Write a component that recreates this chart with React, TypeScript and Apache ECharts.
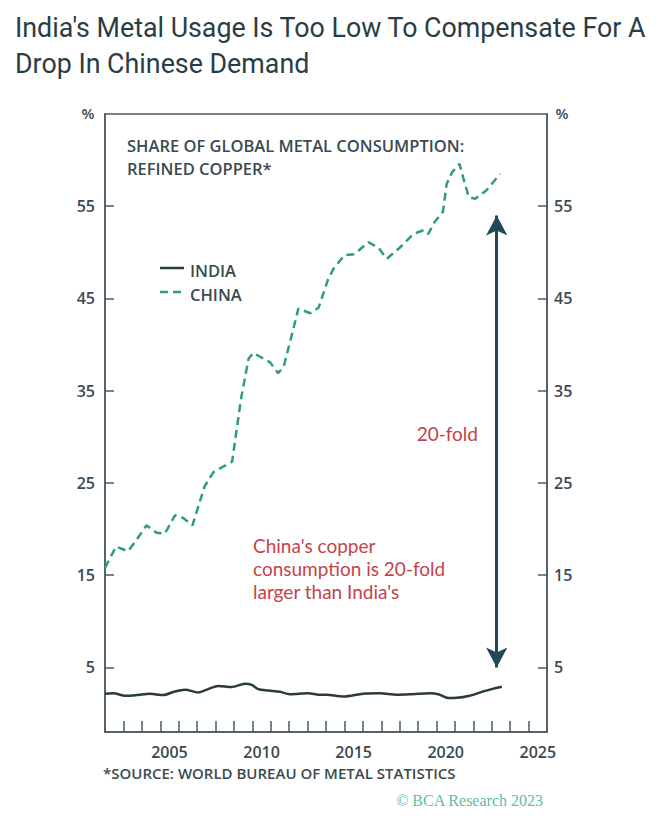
import React, { useEffect, useRef } from "react";
import * as echarts from "echarts";

const chinaYears = [2002.0, 2002.6, 2003.25, 2003.7, 2004.25, 2004.8, 2005.25, 2005.8, 2006.25, 2006.75, 2007.4, 2007.9, 2008.9, 2009.4, 2009.8, 2010.05, 2010.95, 2011.4, 2011.7, 2012.2, 2012.5, 2013.15, 2013.6, 2014.1, 2014.4, 2015.0, 2015.55, 2016.3, 2016.85, 2017.3, 2018.0, 2018.75, 2019.3, 2019.55, 2019.9, 2020.35, 2020.55, 2020.85, 2021.25, 2021.45, 2021.75, 2022.1, 2022.7, 2023.45];
const chinaShare = [15.8, 18.1, 17.6, 18.8, 20.4, 19.6, 19.5, 21.5, 21.2, 20.4, 24.6, 26.2, 27.3, 34.3, 38.5, 39.1, 38.1, 36.9, 37.6, 41.5, 43.9, 43.4, 44.0, 47.0, 48.2, 49.7, 49.8, 51.1, 50.5, 49.3, 50.5, 52.0, 52.4, 52.0, 53.3, 54.4, 57.4, 58.7, 59.6, 58.1, 56.0, 55.8, 56.7, 58.5];

const indiaYears = [2002.0, 2002.45, 2003.1, 2003.7, 2004.45, 2005.15, 2005.8, 2006.35, 2007.07, 2007.6, 2008.15, 2008.88, 2009.6, 2009.97, 2010.32, 2010.87, 2011.5, 2012.04, 2013.04, 2013.6, 2014.03, 2014.94, 2016.02, 2016.93, 2017.84, 2018.7, 2019.64, 2020.1, 2020.64, 2021.1, 2021.8, 2022.54, 2023.0, 2023.55];
const indiaShare = [2.15, 2.2, 1.93, 2.0, 2.15, 2.0, 2.4, 2.58, 2.29, 2.65, 3.0, 2.87, 3.23, 3.1, 2.65, 2.5, 2.36, 2.1, 2.2, 2.05, 2.04, 1.85, 2.15, 2.2, 2.04, 2.1, 2.2, 2.1, 1.68, 1.7, 1.93, 2.4, 2.65, 2.9];

const yTickValues = [5, 15, 25, 35, 45, 55];
const xTickYears = [2003, 2004, 2005, 2006, 2007, 2008, 2009, 2010, 2011, 2012, 2013, 2014, 2015, 2016, 2017, 2018, 2019, 2020, 2021, 2022, 2023, 2024, 2025];
const xLabelYears = [2005, 2010, 2015, 2020, 2025];

const arrowYear = 2023.27;
const arrowTop = 54.0;
const arrowBottom = 5.0;

const AXIS = "#4a5a60";
const LABEL = "#3a4a50";
const GREEN = "#2e9e7a";
const DARK = "#2a3a40";
const RED = "#c4424a";
const ARROW = "#1f4a55";

export default function App() {
  const ref = useRef<HTMLDivElement>(null);
  useEffect(() => {
    if (!ref.current) return;
    const chart = echarts.init(ref.current, undefined, { renderer: "svg" });
    const labelFont = { color: LABEL, fontFamily: "Open Sans", fontSize: 16, fontWeight: 600 };
    const smallFont = "600 16.5px 'Open Sans'";
    const redFont = "400 19px Lato";
    chart.setOption({
      animation: false,
      backgroundColor: "#ffffff",
      grid: {
        left: 105,
        right: 113,
        top: 114,
        bottom: 86,
        show: true,
        borderColor: AXIS,
        borderWidth: 1.5,
        backgroundColor: "transparent",
      },
      xAxis: {
        type: "value",
        min: 2002,
        max: 2026,
        interval: 1,
        splitLine: { show: false },
        axisLine: { show: true, onZero: false, lineStyle: { color: AXIS, width: 1.5 } },
        axisTick: { show: true, inside: true, length: 11, customValues: xTickYears, lineStyle: { color: AXIS, width: 1.5 } },
        axisLabel: {
          ...labelFont,
          margin: 12,
          customValues: xLabelYears.map((y) => y + 0.5),
          formatter: (v: number) => String(Math.floor(v)),
        },
      },
      yAxis: [
        {
          type: "value",
          min: -2,
          max: 65,
          position: "left",
          splitLine: { show: false },
          axisLine: { show: true, onZero: false, lineStyle: { color: AXIS, width: 1.5 } },
          axisTick: { show: true, inside: true, length: 9, customValues: yTickValues, lineStyle: { color: AXIS, width: 1.5 } },
          axisLabel: { ...labelFont, margin: 10, customValues: yTickValues },
        },
        {
          type: "value",
          min: -2,
          max: 65,
          position: "right",
          splitLine: { show: false },
          axisLine: { show: true, onZero: false, lineStyle: { color: AXIS, width: 1.5 } },
          axisTick: { show: true, inside: true, length: 9, customValues: yTickValues, lineStyle: { color: AXIS, width: 1.5 } },
          axisLabel: { ...labelFont, margin: 7, customValues: yTickValues },
        },
      ],
      series: [
        {
          name: "INDIA",
          type: "line",
          data: indiaYears.map((y, i) => [y, indiaShare[i]]),
          showSymbol: false,
          smooth: 0.3,
          lineStyle: { color: DARK, width: 2.5 },
          z: 3,
        },
        {
          name: "CHINA",
          type: "line",
          data: chinaYears.map((y, i) => [y, chinaShare[i]]),
          showSymbol: false,
          lineStyle: { color: GREEN, width: 2.5, type: [8, 5] },
          z: 3,
          markLine: {
            silent: true,
            symbol: ["arrow", "arrow"],
            symbolSize: [16, 20],
            label: { show: false },
            lineStyle: { color: ARROW, width: 3, type: "solid" },
            data: [[{ coord: [arrowYear, arrowTop] }, { coord: [arrowYear, arrowBottom] }]],
          },
        },
      ],
      graphic: [
        { type: "text", x: 15, y: 28, style: { text: "India's Metal Usage Is Too Low To Compensate For A", fill: "#2b3d44", font: "400 26.8px Roboto", textAlign: "left", textVerticalAlign: "middle" } },
        { type: "text", x: 15, y: 64, style: { text: "Drop In Chinese Demand", fill: "#2b3d44", font: "400 26.8px Roboto", textAlign: "left", textVerticalAlign: "middle" } },
        { type: "text", x: 88, y: 113, style: { text: "%", fill: LABEL, font: "600 15px 'Open Sans'", textAlign: "center", textVerticalAlign: "middle" } },
        { type: "text", x: 562, y: 113, style: { text: "%", fill: LABEL, font: "600 15px 'Open Sans'", textAlign: "center", textVerticalAlign: "middle" } },
        { type: "text", x: 127, y: 156.5, style: { text: "SHARE OF GLOBAL METAL CONSUMPTION:\nREFINED COPPER*", fill: LABEL, font: smallFont, lineHeight: 23, textAlign: "left", textVerticalAlign: "middle" } },
        { type: "line", shape: { x1: 160, y1: 268, x2: 184, y2: 268 }, style: { stroke: DARK, lineWidth: 2.5 } },
        { type: "line", shape: { x1: 160, y1: 292, x2: 184, y2: 292 }, style: { stroke: GREEN, lineWidth: 2.5, lineDash: [8, 5] } },
        { type: "text", x: 190, y: 282, style: { text: "INDIA\nCHINA", fill: LABEL, font: smallFont, lineHeight: 24, textAlign: "left", textVerticalAlign: "middle" } },
        { type: "text", x: 478, y: 433, style: { text: "20-fold", fill: RED, font: redFont, textAlign: "right", textVerticalAlign: "middle" } },
        { type: "text", x: 253, y: 568, style: { text: "China's copper\nconsumption is 20-fold\nlarger than India's", fill: RED, font: redFont, lineHeight: 23, textAlign: "left", textVerticalAlign: "middle" } },
        { type: "text", x: 103, y: 773, style: { text: "*SOURCE: WORLD BUREAU OF METAL STATISTICS", fill: LABEL, font: "600 15px 'Open Sans'", textAlign: "left", textVerticalAlign: "middle" } },
        { type: "text", x: 543, y: 800, style: { text: "© BCA Research 2023", fill: "#5bbf9f", font: "400 16px 'Liberation Serif'", textAlign: "right", textVerticalAlign: "middle" } },
      ],
    });
    return () => chart.dispose();
  }, []);
  return <div ref={ref} style={{ position: "fixed", left: 0, top: 0, width: 660, height: 818, background: "#fff" }} />;
}
